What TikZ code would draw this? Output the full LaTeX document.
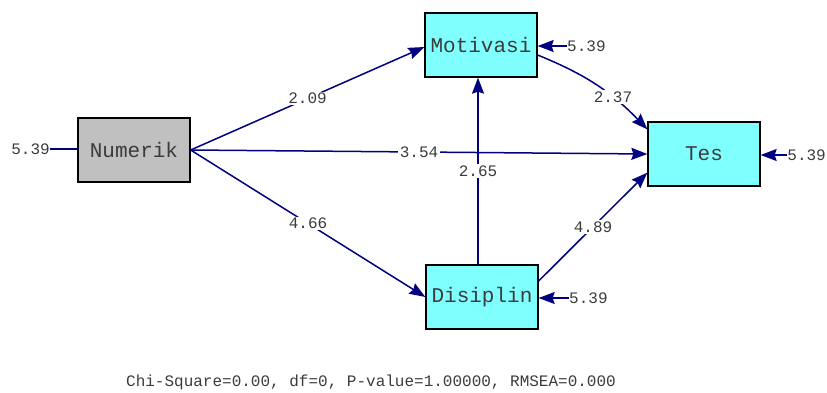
\documentclass[tikz,border=0pt]{standalone}
\usepackage{fontspec}
\setmainfont{Liberation Mono}
\usetikzlibrary{arrows.meta,positioning,calc}
\definecolor{navy}{RGB}{0,0,128}
\definecolor{cyanbox}{RGB}{128,255,255}
\definecolor{graybox}{RGB}{192,192,192}
\definecolor{txt}{RGB}{60,60,60}
\begin{document}
\begin{tikzpicture}[x=1pt,y=-1pt,
  var/.style={draw=black,line width=1.3pt,minimum width=112pt,minimum height=64pt,inner sep=0pt,font=\fontsize{21}{21}\selectfont,text=txt},
  obs/.style={var,fill=cyanbox},
  exo/.style={var,fill=graybox},
  sempath/.style={draw=navy,line width=1.5pt,-{Stealth[length=16pt,width=12pt,inset=2pt]}},
  lab/.style={fill=white,inner sep=1.5pt,font=\fontsize{16}{16}\selectfont,text=txt},
  errlab/.style={inner sep=0pt,font=\fontsize{16}{16}\selectfont,text=txt}]
\useasboundingbox (0,0) rectangle (827,392);
\node[exo] (num) at (134,150) {Numerik};
\node[obs] (mot) at (481,45) {Motivasi};
\node[obs] (dis) at (482,297) {Disiplin};
\node[obs] (tes) at (704,154) {Tes};
% error terms
\node[errlab,anchor=east] (enum) at (50,149) {5.39};
\draw[navy,line width=1.5pt] (enum.east) -- (num.west |- enum.east);
\node[errlab,anchor=west] (emot) at (567,46) {5.39};
\draw[sempath] (emot.west) -- (mot.east |- emot.west);
\node[errlab,anchor=west] (edis) at (569,298) {5.39};
\draw[sempath] (edis.west) -- (dis.east |- edis.west);
\node[errlab,anchor=east] (etes) at (826,155) {5.39};
\draw[sempath] (etes.west) -- (tes.east |- etes.west);
% structural paths
\draw[sempath] (num.east) -- node[lab,pos=0.5] {2.09} ($(mot.west)+(0,2)$);
\draw[sempath] (num.east) -- node[lab,pos=0.5] {3.54} (tes.west);
\draw[sempath] (num.east) -- node[lab,pos=0.5] {4.66} (dis.west);
\draw[sempath] ($(dis.north)+(-4,0)$) -- node[lab,pos=0.5] {2.65} ($(mot.south)+(-3,0)$);
\draw[sempath] ($(mot.east)+(0,10)$) to[bend left=12] node[lab,pos=0.66] {2.37} ($(tes.north west)+(0,8)$);
\draw[sempath] ($(dis.east)+(0,-16)$) -- node[lab,pos=0.5] {4.89} ($(tes.south west)+(0,-14)$);
\node[errlab] (fit) at (371,382) {Chi-Square=0.00, df=0, P-value=1.00000, RMSEA=0.000};
\end{tikzpicture}
\end{document}
